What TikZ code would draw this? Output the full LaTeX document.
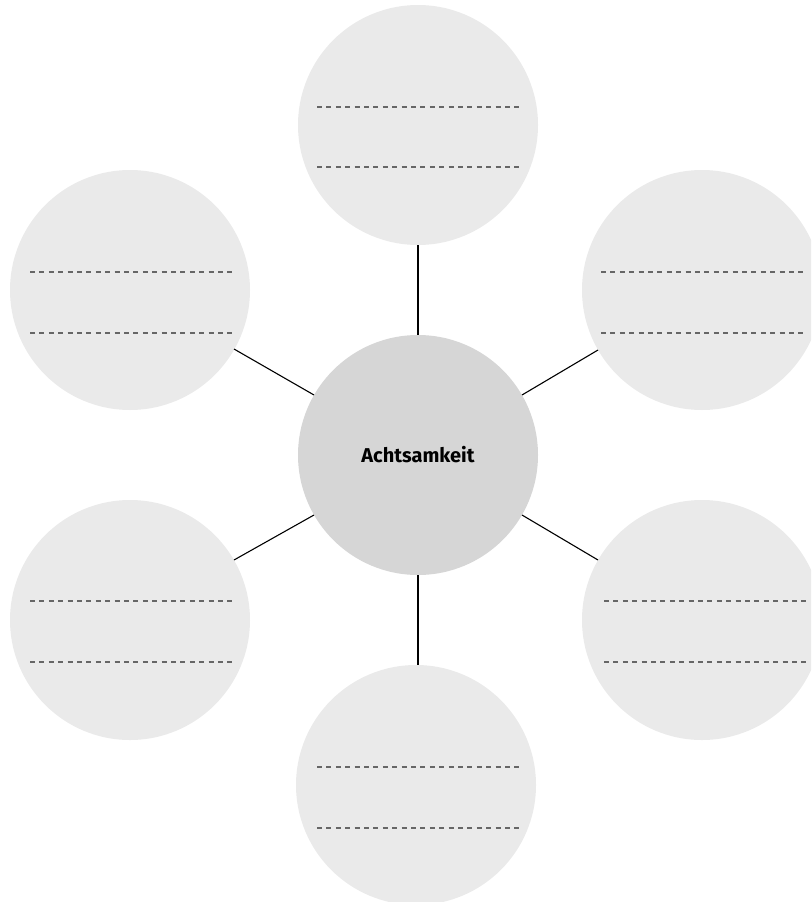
\documentclass[tikz,border=0pt]{standalone}
\usepackage{fontspec}
\setmainfont{Fira Sans}
\begin{document}
\begin{tikzpicture}[x=1pt,y=-1pt,
  outer/.style={circle,fill=outerfill,draw=none,minimum size=240pt,inner sep=0pt},
  inner/.style={circle,fill=innerfill,draw=none,minimum size=240pt,inner sep=0pt,font=\fontsize{20}{24}\selectfont\bfseries},
  link/.style={draw=black,line width=1.1pt},
  wline/.style={draw=linegray,line width=1.1pt,dash pattern=on 5pt off 4.4pt}]
\definecolor{outerfill}{HTML}{EAEAEA}
\definecolor{innerfill}{HTML}{D6D6D6}
\definecolor{linegray}{HTML}{666666}
\useasboundingbox (0,0) rectangle (811,902);
\clip (0,0) rectangle (811,902);
\node[inner] (c) at (418,455) {Achtsamkeit};
\node[outer] (t) at (418,125) {};
\node[outer] (tl) at (130,290) {};
\node[outer] (tr) at (702,290) {};
\node[outer] (bl) at (130,620) {};
\node[outer] (br) at (702,620) {};
\node[outer] (b) at (416,785) {};
\foreach \n/\xa/\xb/\ya/\yb in {t/317/519/107/167, tl/30/232/272/333, tr/601/803/272/333, bl/30/232/601/662, br/604/806/601/662, b/317/519/767/828}{
  \coordinate (\n-a1) at (\xa,\ya);
  \coordinate (\n-a2) at (\xb,\ya);
  \coordinate (\n-b1) at (\xa,\yb);
  \coordinate (\n-b2) at (\xb,\yb);
  \draw[wline] (\n-a1) -- (\n-a2);
  \draw[wline] (\n-b1) -- (\n-b2);
}
\coordinate (c1) at (314,395); \coordinate (tl1) at (234,349);
\coordinate (c2) at (522,395); \coordinate (tr1) at (598,350);
\coordinate (c3) at (314,515); \coordinate (bl1) at (234,560);
\coordinate (c4) at (522,515); \coordinate (br1) at (598,560);
\coordinate (b1) at (418,665);
\draw[link] (c.north) -- (t.south);
\draw[link] (c.south) -- (b1);
\draw[link] (c1) -- (tl1);
\draw[link] (c2) -- (tr1);
\draw[link] (c3) -- (bl1);
\draw[link] (c4) -- (br1);
\end{tikzpicture}
\end{document}
